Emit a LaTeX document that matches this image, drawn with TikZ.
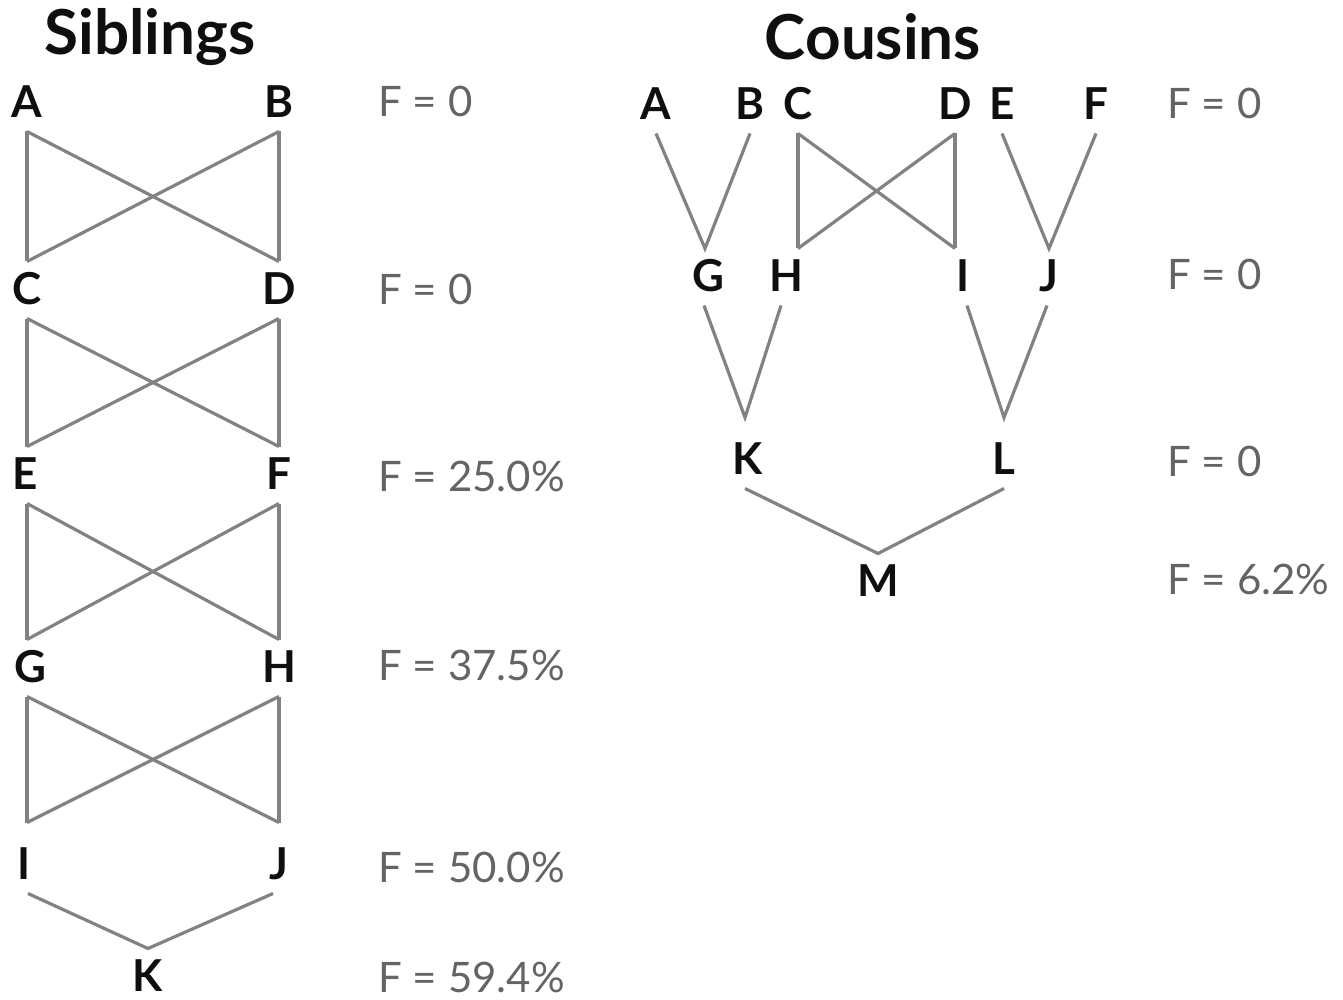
\documentclass[tikz,border=0pt]{standalone}
\usepackage{fontspec}
\usetikzlibrary{calc}
\setmainfont{Lato}
\definecolor{linegray}{RGB}{130,130,130}
\definecolor{labgray}{RGB}{100,100,100}
\definecolor{ink}{RGB}{15,15,15}
\begin{document}
\begin{tikzpicture}[x=0.5pt,y=-0.5pt,
  ltr/.style={font=\fontsize{22}{22}\selectfont\bfseries, text=ink, inner sep=0pt, outer sep=7pt, text height=14.5pt, text depth=0pt},
  ttl/.style={font=\fontsize{31}{31}\selectfont\bfseries, text=ink, inner sep=0pt},
  lab/.style={font=\fontsize{21}{21}\selectfont, text=labgray, inner sep=0pt, anchor=west, text height=14pt, text depth=0pt},
  link/.style={draw=linegray, line width=1.6pt}]
\useasboundingbox (0,0) rectangle (1343,1000);

% ---------- Siblings ----------
\node[ttl] (tsib) at (150,37) {Siblings};
\node[ltr] (sA) at (27,103) {A};
\node[ltr] (sB) at (279,103) {B};
\node[ltr] (sC) at (27,290) {C};
\node[ltr] (sD) at (279,290) {D};
\node[ltr] (sE) at (25,475) {E};
\node[ltr] (sF) at (279,475) {F};
\node[ltr] (sG) at (30,668) {G};
\node[ltr] (sH) at (279,668) {H};
\node[ltr] (sI) at (24,865) {I};
\node[ltr] (sJ) at (279,865) {J};
\node[ltr] (sK) at (148,977) {K};

\draw[link] (sA.south) -- (sA.south |- sC.north);
\draw[link] (sB.south) -- (sB.south |- sD.north);
\draw[link] (sA.south) -- (sB.south |- sD.north);
\draw[link] (sB.south) -- (sA.south |- sC.north);

\draw[link] (sA.south |- sC.south) -- (sA.south |- sE.north);
\draw[link] (sD.south) -- (sD.south |- sF.north);
\draw[link] (sA.south |- sC.south) -- (sD.south |- sF.north);
\draw[link] (sD.south) -- (sA.south |- sE.north);

\draw[link] (sA.south |- sE.south) -- (sA.south |- sG.north);
\draw[link] (sF.south) -- (sF.south |- sH.north);
\draw[link] (sA.south |- sE.south) -- (sF.south |- sH.north);
\draw[link] (sF.south) -- (sA.south |- sG.north);

\coordinate (iTop) at ($(sA.south |- sI.north)+(0,-14)$);
\coordinate (jTop) at ($(sH.south |- sJ.north)+(0,-14)$);
\draw[link] (sA.south |- sG.south) -- (iTop);
\draw[link] (sH.south) -- (jTop);
\draw[link] (sA.south |- sG.south) -- (jTop);
\draw[link] (sH.south) -- (iTop);
\draw[link] ($(sI.south)+(4,0)$) -- (sK.north) -- ($(sJ.south)+(-6,0)$);

\node[lab] (fs1) at (378,103) {F = 0};
\node[lab] (fs2) at (378,290) {F = 0};
\node[lab] (fs3) at (378,477) {F = 25.0\%};
\node[lab] (fs4) at (378,666) {F = 37.5\%};
\node[lab] (fs5) at (378,868) {F = 50.0\%};
\node[lab] (fs6) at (378,978) {F = 59.4\%};

% ---------- Cousins ----------
\node[ttl] (tcou) at (873,37) {Cousins};
\node[ltr] (cA) at (656,105) {A};
\node[ltr] (cB) at (750,105) {B};
\node[ltr] (cC) at (798,105) {C};
\node[ltr] (cD) at (955,105) {D};
\node[ltr] (cE) at (1002,105) {E};
\node[ltr] (cF) at (1096,105) {F};
\node[ltr] (cG) at (708,277) {G};
\node[ltr] (cH) at (786,277) {H};
\node[ltr] (cI) at (963,277) {I};
\node[ltr] (cJ) at (1049,277) {J};
\node[ltr] (cK) at (748,460) {K};
\node[ltr] (cL) at (1004,460) {L};
\node[ltr] (cM) at (878,582) {M};

\coordinate (gTop) at ($(cG.north)+(-3,0)$);
\draw[link] (cA.south) -- (gTop) -- (cB.south);
\draw[link] (cC.south) -- (cC.south |- cH.north);
\draw[link] (cD.south) -- (cD.south |- cI.north);
\draw[link] (cC.south) -- (cD.south |- cI.north);
\draw[link] (cD.south) -- (cC.south |- cH.north);
\draw[link] (cE.south) -- (cJ.north) -- (cF.south);
\coordinate (kTop) at ($(cK.north)+(-3,-14)$);
\coordinate (lTop) at ($(cL.north)+(0,-14)$);
\draw[link] ($(cG.south)+(-4,0)$) -- (kTop) -- ($(cH.south)+(-5,0)$);
\draw[link] ($(cI.south)+(4,0)$) -- (lTop) -- ($(cJ.south)+(-2,0)$);
\draw[link] ($(cK.south)+(-3,0)$) -- (cM.north) -- (cL.south);

\node[lab] (fc1) at (1167,105) {F = 0};
\node[lab] (fc2) at (1167,275) {F = 0};
\node[lab] (fc3) at (1167,462) {F = 0};
\node[lab] (fc4) at (1167,580) {F = 6.2\%};
\end{tikzpicture}
\end{document}
